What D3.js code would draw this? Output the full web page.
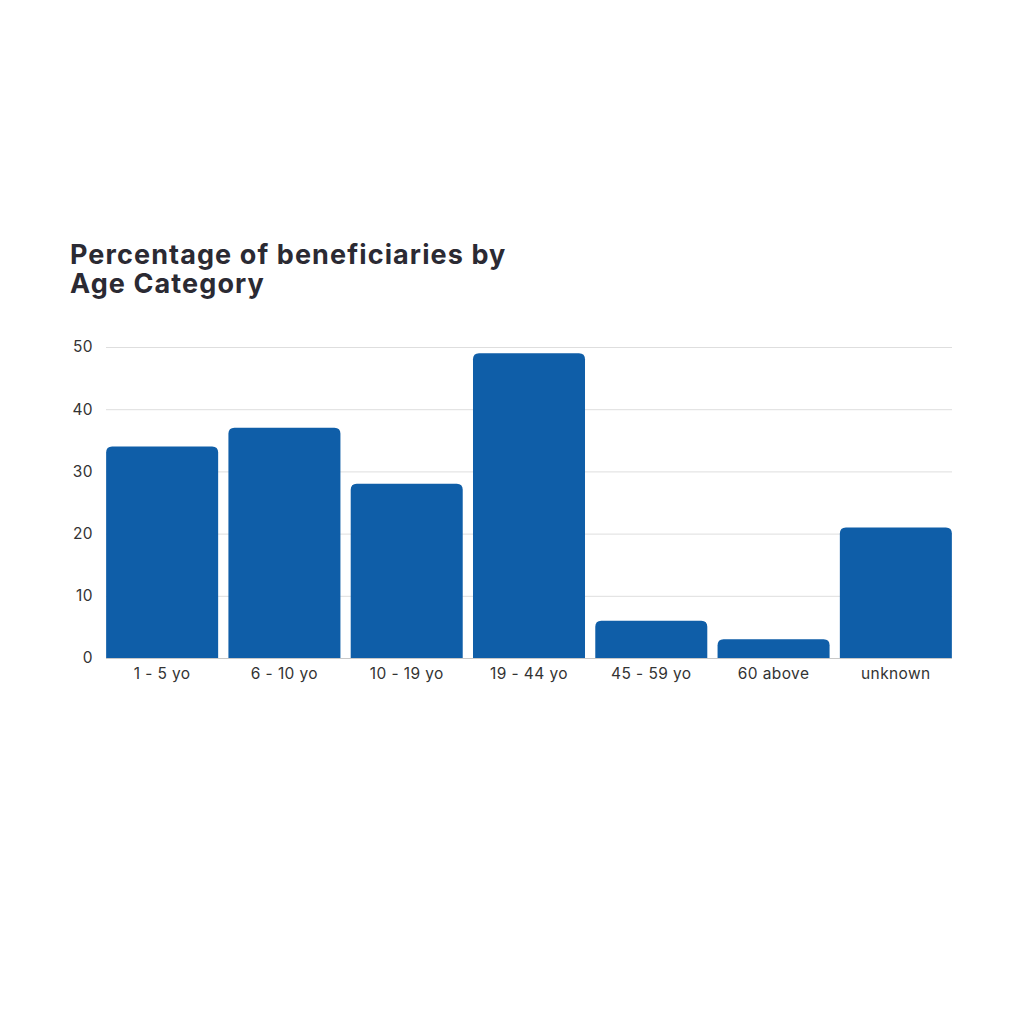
<!DOCTYPE html>
<html>
<head>
<meta charset="utf-8">
<script src="https://cdn.jsdelivr.net/npm/d3@7"></script>
<style>
  body { margin: 0; background: #fff; }
  text { font-family: Inter, "Open Sans", sans-serif; }
</style>
</head>
<body>
<svg id="chart" width="1024" height="1024"></svg>
<script>
// data
var categories = ["1 - 5 yo", "6 - 10 yo", "10 - 19 yo", "19 - 44 yo", "45 - 59 yo", "60 above", "unknown"];
var values = [34, 37, 28, 49, 6, 3, 21];
var yTicks = [0, 10, 20, 30, 40, 50];
var titleLines = ["Percentage of beneficiaries by", "Age Category"];

var svg = d3.select("#chart"),
    plotLeft = 101,
    plotRight = 957,
    plotTop = 347,
    plotBottom = 658,
    barColor = "#0f5ea8";

var x = d3.scaleBand()
    .domain(categories)
    .range([plotLeft, plotRight])
    .paddingInner(0.084)
    .paddingOuter(0.042);

var y = d3.scaleLinear()
    .domain([0, 50])
    .range([plotBottom, plotTop]);

svg.append("rect").attr("width", 1024).attr("height", 1024).attr("fill", "#fff");

// title
svg.append("g")
    .selectAll("text")
    .data(titleLines)
    .enter()
    .append("text")
    .attr("x", 70)
    .attr("y", function (d, i) { return 264 + i * 29; })
    .attr("fill", "#2b2a33")
    .style("font-size", "27px")
    .style("font-weight", 700)
    .style("letter-spacing", "1.1px")
    .text(function (d) { return d; });

// y labels
var yAxis = svg.append("g")
    .attr("transform", "translate(106,0)")
    .call(d3.axisLeft(y).tickValues(yTicks).tickSize(0).tickPadding(13));
yAxis.select(".domain").remove();
yAxis.selectAll("text")
    .attr("fill", "#333")
    .style("font-size", "15.5px")
    .style("letter-spacing", "0.4px")
    .style("font-family", "Inter, sans-serif");

// gridlines
svg.append("g")
    .selectAll("line")
    .data(yTicks.filter(function (d) { return d > 0; }))
    .enter()
    .append("line")
    .attr("x1", 106)
    .attr("x2", 952)
    .attr("y1", function (d) { return y(d) + 0.5; })
    .attr("y2", function (d) { return y(d) + 0.5; })
    .attr("stroke", "#dedede")
    .attr("stroke-width", 1);

// bars with rounded tops
var r = 6;
function barPath(d, i) {
    var x0 = x(categories[i]),
        w = x.bandwidth(),
        yt = y(d),
        yb = y(0),
        rr = Math.min(r, (yb - yt));
    return "M" + x0 + "," + yb +
        "V" + (yt + rr) +
        "Q" + x0 + "," + yt + " " + (x0 + rr) + "," + yt +
        "H" + (x0 + w - rr) +
        "Q" + (x0 + w) + "," + yt + " " + (x0 + w) + "," + (yt + rr) +
        "V" + yb + "Z";
}

svg.append("g")
    .selectAll("path")
    .data(values)
    .enter()
    .append("path")
    .attr("d", barPath)
    .attr("fill", barColor);

// baseline
svg.append("line")
    .attr("x1", 106)
    .attr("x2", 952)
    .attr("y1", plotBottom + 0.5)
    .attr("y2", plotBottom + 0.5)
    .attr("stroke", "#c8c8c8");

// x axis labels
var xAxis = svg.append("g")
    .attr("transform", "translate(0," + plotBottom + ")")
    .call(d3.axisBottom(x).tickSize(0).tickPadding(10));
xAxis.select(".domain").remove();
xAxis.selectAll("text")
    .attr("fill", "#333")
    .style("font-size", "15.5px")
    .style("letter-spacing", "0.4px")
    .style("font-family", "Inter, sans-serif");
</script>
</body>
</html>
